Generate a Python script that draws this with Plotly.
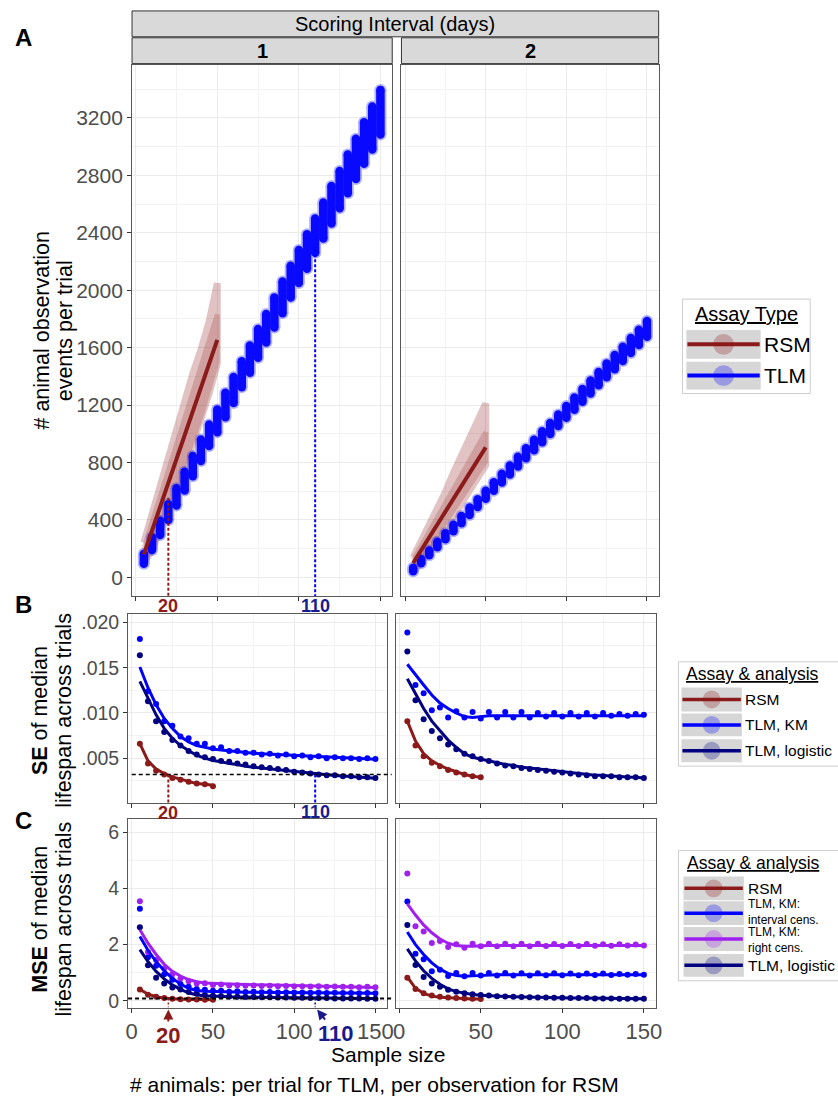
import plotly.graph_objects as go

W, H = 838, 1101
FONT = "Liberation Sans, Arial, Helvetica, sans-serif"
TICK = "#4D4D4D"
RED = "#8B1A1A"
BLUE = "#0000FF"
NAVY = "#000080"
PURPLE = "#A020F0"
LABNAVY = "#1A1A8C"

# ---------------- data ----------------
tlm_x = [5, 10, 15, 20, 25, 30, 35, 40, 45, 50, 55, 60, 65, 70, 75, 80, 85, 90, 95, 100,
         105, 110, 115, 120, 125, 130, 135, 140, 145, 150]
rsm_x = [5, 10, 15, 20, 25, 30, 35, 40, 45, 50]

# Panel A: observation events per trial (TLM: spread of trials per sample size)
tlm_obs_lo_1 = [95, 190, 295, 400, 500, 605, 705, 810, 915, 1010, 1115, 1215, 1325, 1425, 1530,
                1635, 1740, 1840, 1950, 2050, 2150, 2260, 2360, 2465, 2570, 2675, 2775, 2880, 2980, 3085]
tlm_obs_hi_1 = [165, 280, 395, 510, 620, 735, 845, 960, 1065, 1170, 1285, 1395, 1505, 1615, 1730,
                1835, 1950, 2060, 2170, 2280, 2390, 2500, 2610, 2725, 2830, 2945, 3055, 3170, 3280, 3395]
tlm_obs_lo_2 = [43, 98, 154, 210, 265, 321, 377, 434, 490, 547, 603, 660, 716, 772, 829,
                886, 941, 998, 1055, 1112, 1167, 1224, 1281, 1338, 1393, 1450, 1507, 1563, 1619, 1675]
tlm_obs_hi_2 = [67, 128, 188, 248, 307, 367, 427, 486, 544, 603, 663, 722, 780, 840, 899,
                958, 1017, 1076, 1135, 1194, 1253, 1312, 1371, 1430, 1489, 1548, 1607, 1667, 1725, 1785]

rsm_obs_fit_1 = [160, 326, 492, 658, 824, 990, 1156, 1322, 1488, 1654]
rsm_cloud_lo_1 = [104, 190, 330, 470, 590, 755, 934, 1090, 1280, 1488]
rsm_cloud_hi_1 = [242, 440, 625, 837, 1005, 1195, 1419, 1585, 1780, 2048]
rsm_core_lo_1 = [120, 215, 360, 500, 630, 790, 960, 1120, 1310, 1510]
rsm_core_hi_1 = [200, 380, 560, 750, 910, 1090, 1290, 1450, 1630, 1830]

rsm_obs_fit_2 = [100, 189, 278, 368, 457, 546, 635, 724, 814, 905]
rsm_cloud_lo_2 = [35, 104, 180, 249, 332, 422, 519, 609, 692, 782]
rsm_cloud_hi_2 = [138, 249, 353, 470, 595, 727, 851, 969, 1093, 1211]
rsm_core_lo_2 = [60, 130, 205, 285, 370, 460, 550, 640, 725, 810]
rsm_core_hi_2 = [120, 220, 320, 420, 520, 620, 720, 820, 920, 1010]

rsm_ref_n, tlm_ref_n = 20, 110
rsm_ref_obs, tlm_ref_obs = 555, 2285

# Panel B: SE of median lifespan
se_rsm_1 = [0.0066, 0.0044, 0.0036, 0.0032, 0.0028, 0.0026, 0.0024, 0.0022, 0.0021, 0.0019]
se_rsm_fit_1 = [0.0066, 0.0047, 0.0038, 0.0033, 0.0029, 0.0027, 0.0024, 0.0022, 0.0021, 0.0020]
se_km_1 = [0.0182, 0.0124, 0.0110, 0.0091, 0.0086, 0.0074, 0.0072, 0.0066, 0.0066, 0.0061,
           0.0062, 0.0058, 0.0058, 0.0056, 0.0056, 0.0054, 0.0055, 0.0053, 0.0054, 0.0052,
           0.0053, 0.0051, 0.0052, 0.0050, 0.0051, 0.0050, 0.0050, 0.0049, 0.0050, 0.0049]
se_km_fit_1 = [0.0151, 0.0128, 0.0109, 0.0094, 0.0083, 0.0074, 0.0068, 0.0064, 0.0062, 0.0060,
               0.0059, 0.0058, 0.0057, 0.0056, 0.00555, 0.0055, 0.00545, 0.0054, 0.00535, 0.0053,
               0.00525, 0.0052, 0.00515, 0.0051, 0.00505, 0.0050, 0.00497, 0.00494, 0.00491, 0.00488]
se_log_1 = [0.0164, 0.0113, 0.0091, 0.0079, 0.0070, 0.0064, 0.0058, 0.0054, 0.0051, 0.0049,
            0.0047, 0.0046, 0.0044, 0.0043, 0.0041, 0.0040, 0.0039, 0.0038, 0.0037, 0.0035,
            0.0034, 0.0033, 0.0032, 0.0031, 0.0031, 0.0030, 0.0030, 0.0029, 0.0029, 0.0028]
se_log_fit_1 = [0.0135, 0.0116, 0.0098, 0.0083, 0.0072, 0.0064, 0.0058, 0.0053, 0.0050, 0.00475,
                0.0046, 0.0044, 0.0043, 0.0041, 0.0040, 0.0039, 0.0038, 0.0037, 0.0036, 0.0035,
                0.0034, 0.0033, 0.00323, 0.00315, 0.00308, 0.00302, 0.00296, 0.0029, 0.00284, 0.00278]

se_rsm_2 = [0.0091, 0.0064, 0.0052, 0.0045, 0.0041, 0.0037, 0.0034, 0.0032, 0.0030, 0.0029]
se_rsm_fit_2 = [0.0091, 0.0069, 0.0055, 0.0047, 0.0042, 0.0038, 0.0035, 0.0032, 0.0030, 0.0029]
se_km_2 = [0.0189, 0.0131, 0.0122, 0.0103, 0.0106, 0.0095, 0.0102, 0.0095, 0.0101, 0.0094,
           0.0101, 0.0095, 0.0101, 0.0095, 0.0101, 0.0095, 0.0100, 0.0096, 0.0100, 0.0096,
           0.0100, 0.0096, 0.0100, 0.0096, 0.0100, 0.0097, 0.0099, 0.0097, 0.0099, 0.0098]
se_km_fit_2 = [0.0154, 0.0142, 0.0131, 0.0120, 0.0111, 0.0105, 0.0100, 0.0096, 0.0095, 0.0096,
               0.0097, 0.0097, 0.0097, 0.0097, 0.0097, 0.0097, 0.0097, 0.0097, 0.0097, 0.0097,
               0.0097, 0.0097, 0.0097, 0.0097, 0.0097, 0.0097, 0.0097, 0.0097, 0.0097, 0.0097]
se_log_2 = [0.0168, 0.0114, 0.0093, 0.0080, 0.0072, 0.0065, 0.0060, 0.0055, 0.0052, 0.0049,
            0.0047, 0.0044, 0.0042, 0.0041, 0.0039, 0.0038, 0.0037, 0.0036, 0.0035, 0.0034,
            0.0033, 0.0032, 0.0031, 0.0030, 0.0030, 0.0030, 0.0029, 0.0029, 0.0029, 0.0028]
se_log_fit_2 = [0.0138, 0.0121, 0.0105, 0.0091, 0.0080, 0.0070, 0.0062, 0.0055, 0.0051, 0.0049,
                0.0047, 0.0045, 0.0043, 0.0042, 0.0040, 0.0039, 0.0038, 0.0037, 0.0036, 0.0035,
                0.0034, 0.0033, 0.0032, 0.0031, 0.0031, 0.0030, 0.0030, 0.0029, 0.0029, 0.0028]
se_ref = 0.0032

# Panel C: MSE of median lifespan
mse_rsm_1 = [0.41, 0.22, 0.15, 0.10, 0.08, 0.06, 0.05, 0.05, 0.04, 0.04]
mse_rsm_fit_1 = [0.41, 0.24, 0.15, 0.10, 0.08, 0.06, 0.05, 0.05, 0.04, 0.04]
mse_kmi_1 = [3.27, 1.55, 1.25, 0.95, 0.75, 0.60, 0.50, 0.42, 0.40, 0.36,
             0.36, 0.33, 0.34, 0.32, 0.33, 0.31, 0.32, 0.30, 0.31, 0.30,
             0.30, 0.29, 0.30, 0.28, 0.29, 0.28, 0.28, 0.27, 0.28, 0.27]
mse_kmi_fit_1 = [2.29, 1.80, 1.40, 1.07, 0.80, 0.60, 0.45, 0.37, 0.34, 0.33,
                 0.32, 0.32, 0.31, 0.31, 0.31, 0.30, 0.30, 0.30, 0.30, 0.29,
                 0.29, 0.29, 0.29, 0.28, 0.28, 0.28, 0.28, 0.27, 0.27, 0.27]
mse_kmr_1 = [3.54, 1.74, 1.45, 1.15, 0.95, 0.80, 0.70, 0.62, 0.63, 0.57,
             0.58, 0.55, 0.56, 0.54, 0.55, 0.53, 0.54, 0.52, 0.53, 0.52,
             0.52, 0.51, 0.52, 0.50, 0.51, 0.50, 0.50, 0.49, 0.50, 0.49]
mse_kmr_fit_1 = [2.53, 2.05, 1.65, 1.30, 1.05, 0.88, 0.76, 0.68, 0.64, 0.62,
                 0.61, 0.60, 0.59, 0.58, 0.575, 0.57, 0.565, 0.56, 0.555, 0.55,
                 0.545, 0.54, 0.535, 0.53, 0.525, 0.52, 0.51, 0.50, 0.49, 0.48]
mse_log_1 = [2.62, 1.27, 0.82, 0.62, 0.48, 0.41, 0.32, 0.26, 0.21, 0.18,
             0.17, 0.16, 0.15, 0.14, 0.14, 0.13, 0.13, 0.12, 0.12, 0.11,
             0.11, 0.10, 0.10, 0.10, 0.09, 0.09, 0.09, 0.09, 0.08, 0.08]
mse_log_fit_1 = [1.82, 1.40, 1.05, 0.78, 0.57, 0.41, 0.29, 0.21, 0.18, 0.16,
                 0.15, 0.145, 0.14, 0.135, 0.13, 0.125, 0.12, 0.115, 0.11, 0.105,
                 0.10, 0.10, 0.095, 0.095, 0.09, 0.09, 0.09, 0.09, 0.085, 0.085]

mse_rsm_2 = [0.82, 0.42, 0.27, 0.19, 0.15, 0.12, 0.10, 0.09, 0.08, 0.07]
mse_rsm_fit_2 = [0.85, 0.45, 0.27, 0.17, 0.13, 0.11, 0.09, 0.08, 0.07, 0.07]
mse_kmi_2 = [3.53, 1.68, 1.48, 1.05, 1.11, 0.89, 0.99, 0.88, 0.99, 0.90,
             0.99, 0.90, 0.99, 0.90, 0.98, 0.90, 0.98, 0.91, 0.98, 0.91,
             0.97, 0.91, 0.97, 0.92, 0.97, 0.92, 0.96, 0.93, 0.96, 0.93]
mse_kmi_fit_2 = [2.45, 2.00, 1.65, 1.35, 1.13, 0.98, 0.90, 0.88, 0.89, 0.91,
                 0.92, 0.93, 0.93, 0.93, 0.93, 0.93, 0.93, 0.93, 0.93, 0.93,
                 0.93, 0.93, 0.93, 0.93, 0.93, 0.93, 0.93, 0.93, 0.93, 0.93]
mse_kmr_2 = [4.53, 2.65, 2.47, 2.06, 2.13, 1.92, 2.01, 1.89, 2.03, 1.94,
             2.03, 1.94, 2.03, 1.94, 2.03, 1.94, 2.03, 1.95, 2.02, 1.95,
             2.02, 1.95, 2.02, 1.96, 2.01, 1.96, 2.01, 1.97, 2.00, 1.97]
mse_kmr_fit_2 = [3.45, 3.05, 2.70, 2.42, 2.20, 2.05, 1.97, 1.94, 1.94, 1.96,
                 1.97, 1.97, 1.97, 1.97, 1.97, 1.97, 1.97, 1.97, 1.97, 1.97,
                 1.97, 1.97, 1.97, 1.97, 1.97, 1.97, 1.97, 1.97, 1.97, 1.97]
mse_log_2 = [2.70, 1.28, 0.85, 0.62, 0.50, 0.40, 0.33, 0.27, 0.24, 0.21,
             0.19, 0.17, 0.16, 0.15, 0.14, 0.13, 0.12, 0.12, 0.11, 0.11,
             0.10, 0.10, 0.10, 0.09, 0.09, 0.09, 0.08, 0.08, 0.08, 0.08]
mse_log_fit_2 = [1.85, 1.42, 1.07, 0.80, 0.59, 0.43, 0.33, 0.27, 0.23, 0.20,
                 0.18, 0.17, 0.16, 0.15, 0.14, 0.13, 0.12, 0.12, 0.11, 0.11,
                 0.10, 0.10, 0.10, 0.09, 0.09, 0.09, 0.08, 0.08, 0.08, 0.08]
mse_ref = 0.09

x_ticks = [0, 50, 100, 150]
se_alias = {"0.005": ".005", "0.010": ".010", "0.015": ".015", "0.020": ".020"}

# ---------------- layout geometry (pixels) ----------------
X_RANGE = [-2.25, 157.25]
A_Y_RANGE = [-131, 3571]
B_Y_RANGE = [0.00005, 0.02095]
C_Y_RANGE = [-0.236, 6.445]

A1 = (131.3, 394.0, 62, 597)
A2 = (403.3, 663.0, 62, 597)
B1 = (127.3, 388.9, 615, 805)
B2 = (397.3, 660.0, 615, 805)
C1 = (127.3, 388.9, 821.7, 1011)
C2 = (397.3, 660.0, 821.7, 1011)


def px(v):
    return v / W


def py(v):
    return 1 - v / H


def xdom(b):
    return [b[0] / W, b[1] / W]


def ydom(b):
    return [1 - b[3] / H, 1 - b[2] / H]


def x_to_paper(v, b):
    return (b[0] + (v - X_RANGE[0]) / (X_RANGE[1] - X_RANGE[0]) * (b[1] - b[0])) / W


fig = go.Figure()


def cloud(xs, lo, hi, xa, ya, opacity, lw):
    x = list(xs) + list(xs)[::-1]
    y = list(hi) + list(lo)[::-1]
    fig.add_trace(go.Scatter(x=x, y=y, fill="toself", fillcolor=RED, mode="lines",
                             line=dict(color=RED, width=lw), opacity=opacity,
                             xaxis=xa, yaxis=ya, hoverinfo="skip"))


def clusters(xs, lo, hi, xa, ya):
    xx, yy = [], []
    for x, l, h in zip(xs, lo, hi):
        xx += [x, x, None]
        yy += [l, h, None]
    fig.add_trace(go.Scatter(x=xx, y=yy, mode="lines+markers", line=dict(color=BLUE, width=12),
                             marker=dict(size=12, color=BLUE), opacity=0.3,
                             xaxis=xa, yaxis=ya, hoverinfo="skip"))
    fig.add_trace(go.Scatter(x=xx, y=yy, mode="lines+markers", line=dict(color=BLUE, width=8.5),
                             marker=dict(size=8.5, color=BLUE), opacity=0.95,
                             xaxis=xa, yaxis=ya, hoverinfo="skip"))


def pts(xs, ys, color, xa, ya):
    fig.add_trace(go.Scatter(x=xs, y=ys, mode="markers", marker=dict(size=6, color=color),
                             xaxis=xa, yaxis=ya, hoverinfo="skip"))


def fit(xs, ys, color, xa, ya, w=3):
    fig.add_trace(go.Scatter(x=xs, y=ys, mode="lines", line=dict(color=color, width=w),
                             xaxis=xa, yaxis=ya, hoverinfo="skip"))


# Panel A
cloud(rsm_x, rsm_cloud_lo_1, rsm_cloud_hi_1, "x", "y", 0.26, 7)
cloud(rsm_x, rsm_core_lo_1, rsm_core_hi_1, "x", "y", 0.2, 5)
clusters(tlm_x, tlm_obs_lo_1, tlm_obs_hi_1, "x", "y")
fit(rsm_x, rsm_obs_fit_1, RED, "x", "y", 4)
cloud(rsm_x, rsm_cloud_lo_2, rsm_cloud_hi_2, "x2", "y2", 0.26, 7)
cloud(rsm_x, rsm_core_lo_2, rsm_core_hi_2, "x2", "y2", 0.2, 5)
clusters(tlm_x, tlm_obs_lo_2, tlm_obs_hi_2, "x2", "y2")
fit(rsm_x, rsm_obs_fit_2, RED, "x2", "y2", 4)

# Panel B
for xa, ya, r, rf, k, kf, lg, lgf in [
        ("x3", "y3", se_rsm_1, se_rsm_fit_1, se_km_1, se_km_fit_1, se_log_1, se_log_fit_1),
        ("x4", "y4", se_rsm_2, se_rsm_fit_2, se_km_2, se_km_fit_2, se_log_2, se_log_fit_2)]:
    pts(rsm_x, r, RED, xa, ya)
    pts(tlm_x, k, BLUE, xa, ya)
    pts(tlm_x, lg, NAVY, xa, ya)
    fit(rsm_x, rf, RED, xa, ya)
    fit(tlm_x, kf, BLUE, xa, ya)
    fit(tlm_x, lgf, NAVY, xa, ya)

# Panel C
for xa, ya, r, rf, ki, kif, kr, krf, lg, lgf in [
        ("x5", "y5", mse_rsm_1, mse_rsm_fit_1, mse_kmi_1, mse_kmi_fit_1, mse_kmr_1, mse_kmr_fit_1,
         mse_log_1, mse_log_fit_1),
        ("x6", "y6", mse_rsm_2, mse_rsm_fit_2, mse_kmi_2, mse_kmi_fit_2, mse_kmr_2, mse_kmr_fit_2,
         mse_log_2, mse_log_fit_2)]:
    pts(rsm_x, r, RED, xa, ya)
    pts(tlm_x, ki, BLUE, xa, ya)
    pts(tlm_x, kr, PURPLE, xa, ya)
    pts(tlm_x, lg, NAVY, xa, ya)
    fit(rsm_x, rf, RED, xa, ya)
    fit(tlm_x, kif, BLUE, xa, ya)
    fit(tlm_x, krf, PURPLE, xa, ya)
    fit(tlm_x, lgf, NAVY, xa, ya)

# ---------------- axes ----------------
GRID = "#EBEBEB"
MINOR = "#F3F3F3"
BORDER = "#595959"


def xaxis_cfg(b, anchor, labels):
    return dict(domain=xdom(b), range=X_RANGE, anchor=anchor, tickmode="array", tickvals=x_ticks,
                ticks="outside", ticklen=4, tickwidth=1, tickcolor="#333333",
                showticklabels=labels, tickfont=dict(family=FONT, size=22, color=TICK),
                showgrid=True, gridcolor=GRID, gridwidth=1,
                minor=dict(tickmode="linear", tick0=0, dtick=25, showgrid=True, gridcolor=MINOR,
                           gridwidth=1, ticks=""),
                showline=True, mirror=True, linecolor=BORDER, linewidth=1, zeroline=False)


def yaxis_cfg(b, anchor, rng, dtick, minor, labels, size, fmt=None, alias=None):
    d = dict(domain=ydom(b), range=rng, anchor=anchor, tickmode="linear", tick0=0, dtick=dtick,
             ticks="outside" if labels else "", ticklen=4, tickwidth=1, tickcolor="#333333",
             showticklabels=labels, tickfont=dict(family=FONT, size=size, color=TICK),
             showgrid=True, gridcolor=GRID, gridwidth=1,
             minor=dict(tickmode="linear", tick0=0, dtick=minor, showgrid=True, gridcolor=MINOR,
                        gridwidth=1, ticks=""),
             showline=True, mirror=True, linecolor=BORDER, linewidth=1, zeroline=False)
    if fmt:
        d["tickformat"] = fmt
    if alias:
        d["labelalias"] = alias
    return d


fig.update_layout(
    xaxis=xaxis_cfg(A1, "y", False),
    yaxis=yaxis_cfg(A1, "x", A_Y_RANGE, 400, 200, True, 21),
    xaxis2=xaxis_cfg(A2, "y2", False),
    yaxis2=yaxis_cfg(A2, "x2", A_Y_RANGE, 400, 200, False, 21),
    xaxis3=xaxis_cfg(B1, "y3", False),
    yaxis3=yaxis_cfg(B1, "x3", B_Y_RANGE, 0.005, 0.0025, True, 19.5, ".3f", se_alias),
    xaxis4=xaxis_cfg(B2, "y4", False),
    yaxis4=yaxis_cfg(B2, "x4", B_Y_RANGE, 0.005, 0.0025, False, 19.5),
    xaxis5=xaxis_cfg(C1, "y5", True),
    yaxis5=yaxis_cfg(C1, "x5", C_Y_RANGE, 2, 1, True, 19.5),
    xaxis6=xaxis_cfg(C2, "y6", True),
    yaxis6=yaxis_cfg(C2, "x6", C_Y_RANGE, 2, 1, False, 19.5),
)

# ---------------- shapes & annotations ----------------
shapes = []
ann = []


def rect(x0, y0, x1, y1, fill, line=None, lw=1):
    shapes.append(dict(type="rect", xref="paper", yref="paper", x0=px(x0), x1=px(x1),
                       y0=py(y1), y1=py(y0), fillcolor=fill,
                       line=dict(color=line or fill, width=lw if line else 0), layer="above"))


def text(x, y, s, size, color="black", xanchor="center", angle=0, bold=False, under=False, align="center"):
    f = dict(family=FONT, size=size, color=color)
    if under:
        f["lineposition"] = "under"
    ann.append(dict(xref="paper", yref="paper", x=px(x), y=py(y), text=("<b>%s</b>" % s) if bold else s,
                    showarrow=False, xanchor=xanchor, yanchor="middle", textangle=angle, font=f,
                    align=align))


# strips
rect(131.3, 8, 663, 34, "#D9D9D9", "#333333", 1)
rect(131.3, 35, 394.0, 61, "#D9D9D9", "#333333", 1)
rect(403.3, 35, 663, 61, "#D9D9D9", "#333333", 1)
text(397, 21.5, "Scoring Interval (days)", 20)
text(262.6, 48.5, "1", 20, bold=True)
text(533.2, 48.5, "2", 20, bold=True)

# panel letters
text(22, 35, "A", 24, bold=True)
text(22, 605, "B", 24, bold=True)
text(22, 823, "C", 24, bold=True)

# axis titles
text(40, 330, "# animal observation", 21.5, angle=-90)
text(64, 330, "events per trial", 21.5, angle=-90)
text(39, 712, "<b>SE</b> of median", 21.5, angle=-90)
text(63, 712, "lifespan across trials", 21.5, angle=-90)
text(39, 922, "<b>MSE</b> of median", 21.5, angle=-90)
text(63, 922, "lifespan across trials", 21.5, angle=-90)
text(390, 1058, "Sample size", 21)
text(376, 1088, "# animals: per trial for TLM, per observation for RSM", 21)

DASH = "3px,2px"
# Panel A reference lines
shapes.append(dict(type="line", xref="x", yref="y", x0=rsm_ref_n, x1=rsm_ref_n, y0=rsm_ref_obs,
                   y1=A_Y_RANGE[0], line=dict(color=RED, width=2, dash=DASH)))
shapes.append(dict(type="line", xref="x", yref="y", x0=tlm_ref_n, x1=tlm_ref_n, y0=tlm_ref_obs,
                   y1=A_Y_RANGE[0], line=dict(color=BLUE, width=2, dash=DASH)))
ann.append(dict(xref="x", yref="paper", x=rsm_ref_n, y=py(607), text="<b>20</b>", showarrow=False,
                xanchor="center", yanchor="middle", font=dict(family=FONT, size=18, color=RED)))
ann.append(dict(xref="x", yref="paper", x=tlm_ref_n, y=py(607), text="<b>110</b>", showarrow=False,
                xanchor="center", yanchor="middle", font=dict(family=FONT, size=18, color=LABNAVY)))

xr = x_to_paper(rsm_ref_n, A1)
xt = x_to_paper(tlm_ref_n, A1)

# Panel B reference lines
shapes.append(dict(type="line", xref="paper", yref="y3", x0=x_to_paper(0, B1), x1=x_to_paper(160, B1),
                   y0=se_ref, y1=se_ref, line=dict(color="black", width=1.6, dash="4px,3px")))
shapes.append(dict(type="line", xref="paper", yref="y3", x0=xr, x1=xr, y0=se_ref, y1=B_Y_RANGE[0],
                   line=dict(color=RED, width=2, dash=DASH)))
shapes.append(dict(type="line", xref="paper", yref="y3", x0=xt, x1=xt, y0=se_ref, y1=B_Y_RANGE[0],
                   line=dict(color=BLUE, width=2, dash=DASH)))
ann.append(dict(xref="paper", yref="paper", x=xr, y=py(815), text="<b>20</b>", showarrow=False,
                xanchor="center", yanchor="middle", font=dict(family=FONT, size=18, color=RED)))
ann.append(dict(xref="paper", yref="paper", x=xt, y=py(814), text="<b>110</b>", showarrow=False,
                xanchor="center", yanchor="middle", font=dict(family=FONT, size=18, color=LABNAVY)))

# Panel C reference lines
shapes.append(dict(type="line", xref="paper", yref="y5", x0=x_to_paper(-2.25, C1), x1=x_to_paper(161, C1),
                   y0=mse_ref, y1=mse_ref, line=dict(color="black", width=2, dash="4px,3px")))
shapes.append(dict(type="line", xref="paper", yref="y5", x0=xr, x1=xr, y0=mse_ref, y1=C_Y_RANGE[0],
                   line=dict(color=RED, width=1.5, dash="2px,2px")))
shapes.append(dict(type="line", xref="paper", yref="y5", x0=xt, x1=xt, y0=mse_ref, y1=C_Y_RANGE[0],
                   line=dict(color=NAVY, width=1.5, dash="2px,2px")))
ann.append(dict(xref="paper", yref="paper", x=xr, y=py(1013), text="<b>20</b>", showarrow=True,
                ax=0, ay=26, arrowhead=2, arrowsize=1, arrowwidth=2, arrowcolor=RED,
                font=dict(family=FONT, size=22, color=RED)))
ann.append(dict(xref="paper", yref="paper", x=xt + 2 / W, y=py(1013), text="<b>110</b>", showarrow=True,
                ax=19, ay=24, arrowhead=2, arrowsize=1, arrowwidth=2, arrowcolor=LABNAVY,
                font=dict(family=FONT, size=22, color=LABNAVY)))


# ---------------- legends ----------------
def rgba(hexc, a):
    h = hexc.lstrip("#")
    return "rgba(%d,%d,%d,%.2f)" % (int(h[0:2], 16), int(h[2:4], 16), int(h[4:6], 16), a)


def legend_key(kx0, kx1, y0, y1, color, r, lw):
    rect(kx0, y0, kx1, y1, "#D6D6D6")
    cy = (y0 + y1) / 2
    cx = (kx0 + kx1) / 2
    shapes.append(dict(type="line", xref="paper", yref="paper", x0=px(kx0 + 1), x1=px(kx1 - 1),
                       y0=py(cy), y1=py(cy), line=dict(color=color, width=lw), layer="above"))
    shapes.append(dict(type="circle", xref="paper", yref="paper", x0=px(cx - r), x1=px(cx + r),
                       y0=py(cy + r), y1=py(cy - r), fillcolor=rgba(color, 0.28),
                       line=dict(width=0), layer="above"))


# Legend A
rect(687, 298, 816, 393, "white", "#CCCCCC", 1)
text(752, 313, "Assay Type", 20, under=True)
legend_key(691, 766, 329, 358, RED, 10.5, 4)
legend_key(691, 766, 361, 389, BLUE, 10.5, 4)
text(767, 343.5, "RSM", 21, xanchor="left")
text(767, 375, "TLM", 21, xanchor="left")

# Legend B
rect(683, 663, 846, 768, "white", "#CCCCCC", 1)
text(689, 675, "Assay &amp; analysis", 17.5, xanchor="left", under=True)
for (y0, y1, lab, col) in [(689, 713, "RSM", RED), (715, 738, "TLM, KM", BLUE),
                           (741, 764, "TLM, logistic", NAVY)]:
    legend_key(686, 747, y0, y1, col, 9, 3.5)
    text(748, (y0 + y1) / 2, lab, 15.5, xanchor="left")

# Legend C
rect(683, 853, 846, 984, "white", "#CCCCCC", 1)
text(690, 865, "Assay &amp; analysis", 17.5, xanchor="left", under=True)
legend_key(688, 749, 879, 903, RED, 9, 3.5)
text(751, 891, "RSM", 15.5, xanchor="left")
legend_key(688, 749, 904, 928, BLUE, 9, 3.5)
text(751, 915, "TLM, KM:<br>interval cens.", 12, xanchor="left", align="left")
legend_key(688, 749, 930, 954, PURPLE, 9, 3.5)
text(751, 943, "TLM, KM:<br>right cens.", 12, xanchor="left", align="left")
legend_key(688, 749, 957, 980, NAVY, 9, 3.5)
text(751, 968.5, "TLM, logistic", 15.5, xanchor="left")

fig.update_layout(
    width=W, height=H, autosize=False,
    margin=dict(l=0, r=0, t=0, b=0, pad=0),
    paper_bgcolor="white", plot_bgcolor="white",
    showlegend=False,
    font=dict(family=FONT, color="black"),
    shapes=shapes, annotations=ann,
)

fig.write_html("out.html", config={"displayModeBar": False},
               post_script="document.body.style.margin='0px';document.body.style.overflow='hidden';")
